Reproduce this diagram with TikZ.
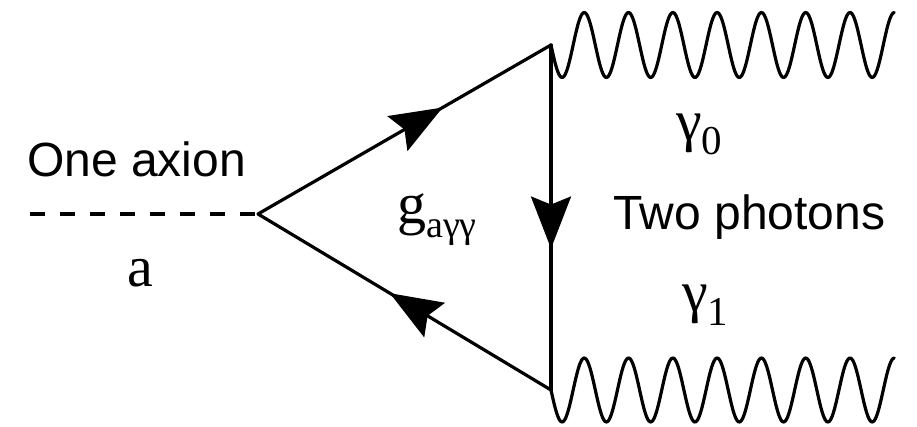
\documentclass[tikz,border=0pt]{standalone}
\usepackage{fontspec}
\setmainfont{Liberation Serif}
\newfontfamily\sansf{Liberation Sans}
\usetikzlibrary{arrows.meta,decorations.markings}
\begin{document}
\begin{tikzpicture}[x=1pt,y=-1pt,
  line/.style={line width=3.2pt, black},
  fermion/.style={line, line cap=round, postaction={decorate},
    decoration={markings, mark=at position #1 with {\arrow{Stealth[length=52pt,width=40pt,inset=8pt]}}}},
  photon/.style={line, line join=round, line cap=round},
  lab/.style={inner sep=0pt, anchor=base west},
  sanslab/.style={lab, font=\sansf\fontsize{48}{48}\selectfont},
  seriflab/.style={lab, font=\fontsize{58}{58}\selectfont},
  ]
\useasboundingbox (0,0) rectangle (917,427);
\coordinate (a0) at (30,214);
\coordinate (v1) at (258,214);
\coordinate (v2) at (551,45);
\coordinate (v3) at (551,390);
\draw[line, dash pattern=on 15pt off 15pt] (a0) -- (v1);
\draw[fermion=0.63] (v1) -- (v2);
\draw[fermion=0.59] (v2) -- (v3);
\draw[fermion=0.55] (v3) -- (v1);
\draw[photon, shift={(v2)}] plot[domain=0:7.75, samples=300, smooth] ({44.3*\x}, {32.5*sin(360*\x)});
\draw[photon, shift={(v3)}] plot[domain=0:7.75, samples=300, smooth] ({44.3*\x}, {32*sin(360*\x)});
\node[sanslab] (t1) at (27,177) {One axion};
\node[seriflab] (ta) at (127,287) {a};
\node[seriflab] (tg) at (397,224) {g\raisebox{-14pt}{\fontsize{38}{38}\selectfont aγγ}};
\node[seriflab] (g0) at (676,141) {γ\raisebox{-14pt}{\fontsize{41}{41}\selectfont 0}};
\node[sanslab] (t2) at (613,230) {Two photons};
\node[seriflab] (g1) at (682,311) {γ\raisebox{-14pt}{\fontsize{41}{41}\selectfont 1}};
\end{tikzpicture}
\end{document}
